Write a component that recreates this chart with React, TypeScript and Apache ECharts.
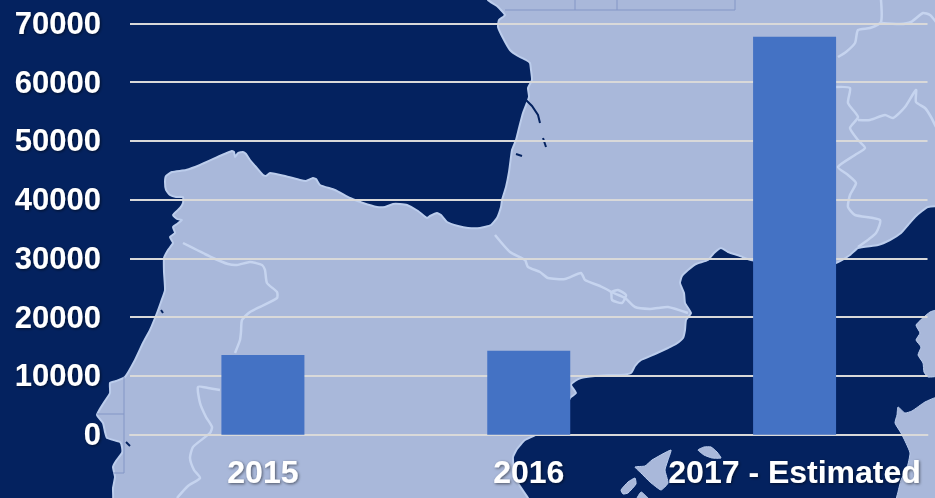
import React, { useEffect, useRef } from "react";
import * as echarts from "echarts";

const categories = ["2015", "2016", "2017 - Estimated"];
const values = [13560, 14300, 67720];
const yMax = 70000;
const yStep = 10000;

const LAND = "#a9b8da";
const SEA = "#04225f";
const COAST = "#bccdec";
const BORDER = "#c6d4ef";
const TABLE = "#8396c6";

type P = number[];

const atlantic: P[] = [[488,-5],[488,0],[497,6],[505,15],[499,20],[498,27],[503,38],[510,50],[518,56],[526,60],[530,63],[531,70],[532,80],[528,88],[529,97],[523,113],[519,128],[516,140],[512,150],[511,157],[509,172],[506,187],[502,200],[501,207],[497,218],[491,225],[480,228],[468,228],[458,226],[447,222],[441,215],[437,213],[430,216],[427,218],[418,211],[407,205],[400,204],[393,204],[385,207],[377,207],[363,203],[350,198],[335,190],[320,185],[316,179],[313,178],[306,181],[300,180],[285,176],[270,173],[266,176],[263,175],[256,167],[250,160],[246,154],[243,152],[238,153],[235,157],[234,152],[232,151],[222,155],[200,165],[186,170],[172,172],[166,176],[165,182],[166,190],[170,195],[176,197],[183,197],[183,203],[180,208],[173,215],[177,219],[182,220],[177,224],[173,227],[175,233],[170,237],[173,243],[168,250],[164,258],[164,272],[165,290],[161,302],[157,313],[150,330],[143,343],[135,360],[125,377],[116,381],[110,383],[110,393],[103,404],[97,415],[103,423],[105,432],[107,438],[120,442],[122,447],[122,453],[116,461],[113,467],[115,477],[113,488],[112,503],[-5,503],[-5,-5]];

const med: P[] = [[940,207],[928,207],[922,211],[915,217],[908,225],[901,233],[890,240],[878,245],[858,248],[850,255],[836,263],[800,266],[751,260],[740,256],[728,252],[721,248],[714,253],[708,260],[696,264],[688,270],[682,276],[680,283],[684,293],[685,303],[691,313],[686,320],[685,330],[683,338],[676,344],[668,348],[655,354],[641,360],[635,366],[631,373],[620,375],[608,375],[595,376],[581,378],[575,381],[571,385],[576,393],[570,398],[560,420],[540,433],[525,440],[517,449],[513,457],[514,470],[518,483],[528,498],[530,503],[940,503]];

const islands: P[][] = [
  [[940,310],[930,312],[916,325],[920,333],[916,340],[921,347],[918,355],[923,363],[924,372],[928,377],[940,375]],
  [[940,397],[925,402],[912,411],[905,413],[898,407],[897,415],[895,423],[901,433],[905,441],[910,453],[907,468],[901,480],[898,492],[896,503],[940,503]],
  [[635,467],[645,466],[652,460],[671,450],[668,460],[665,470],[668,483],[661,490],[650,482],[641,473]],
  [[698,450],[704,447],[711,447],[717,452],[721,458],[712,458],[704,455]],
  [[621,490],[628,482],[635,478],[636,484],[628,493],[623,494]],
  [[635,503],[641,492],[648,498],[650,503]],
];

const borders: P[][] = [
  [[183,243],[197,250],[213,258],[228,264],[237,265],[250,262],[262,265],[265,270],[267,283],[277,292],[277,298],[262,306],[250,312],[242,320],[241,332],[240,340],[235,353]],
  [[220,390],[208,388],[198,387],[200,403],[206,417],[212,427],[210,433],[193,447],[190,458],[194,470],[200,478],[188,486],[177,498]],
  [[495,235],[510,252],[525,260],[528,267],[540,272],[548,278],[565,279],[581,273],[585,280],[600,286],[611,292],[612,300],[622,303],[626,295],[618,290],[612,292],[625,298],[635,307],[650,309],[658,308],[668,307],[688,313]],
  [[881,0],[881,22],[870,28],[858,30],[855,43],[846,52],[838,57]],
  [[881,23],[900,24],[911,22],[923,13],[930,15],[936,22]],
  [[836,87],[850,88],[848,103],[858,117],[850,128],[858,140],[865,148],[855,155],[838,167],[848,175],[856,183],[850,195],[848,207],[855,215],[880,220],[876,233],[858,247]],
  [[858,120],[870,120],[885,115],[893,118],[905,107],[916,90],[916,102],[925,108],[931,117],[936,127]],
];

const darkBits: P[][] = [
  [[526,100],[532,106],[538,115],[540,123]],
  [[543,138],[546,147]],
  [[516,154],[522,156]],
  [[126,442],[130,446]],
  [[163,313],[161,310]],
];

const tableLines: P[][] = [
  [[505,10],[735,10],[735,-2]],
  [[575,-2],[575,10]],
  [[617,-2],[617,10]],
  [[124,377],[124,473],[113,473]],
  [[97,414],[124,414]],
];

const Z = { z: -1 };

function background(): any[] {
  const g: any[] = [
    { type: "rect", ...Z, shape: { x: 0, y: 0, width: 935, height: 498 }, style: { fill: LAND } },
  ];
  borders.forEach((points) =>
    g.push({ type: "polyline", ...Z, shape: { points, smooth: 0.2 }, style: { stroke: BORDER, lineWidth: 2.5, fill: null } }),
  );
  [atlantic, med].forEach((points) =>
    g.push({ type: "polygon", ...Z, shape: { points, smooth: 0.15 }, style: { fill: SEA, stroke: COAST, lineWidth: 2 } }),
  );
  islands.forEach((points) =>
    g.push({ type: "polygon", ...Z, shape: { points, smooth: 0.15 }, style: { fill: LAND, stroke: COAST, lineWidth: 1 } }),
  );
  darkBits.forEach((points) =>
    g.push({ type: "polyline", ...Z, shape: { points }, style: { stroke: SEA, lineWidth: 2, fill: null } }),
  );
  tableLines.forEach((points) =>
    g.push({ type: "polyline", ...Z, shape: { points }, style: { stroke: TABLE, lineWidth: 1, fill: null } }),
  );
  return g;
}

const labelStyle = {
  color: "#ffffff",
  fontFamily: "Liberation Sans",
  fontWeight: "bold" as const,
  textShadowColor: "rgba(0,0,0,0.55)",
  textShadowBlur: 3,
  textShadowOffsetX: 1,
  textShadowOffsetY: 1,
};

export default function App() {
  const ref = useRef<HTMLDivElement>(null);
  useEffect(() => {
    const chart = echarts.init(ref.current!, null, { renderer: "svg" });
    chart.setOption({
      animation: false,
      graphic: { elements: background() },
      grid: { left: 130, right: 7.5, top: 23.3, bottom: 63.3 },
      xAxis: {
        type: "category",
        data: categories,
        axisLine: { show: true, lineStyle: { color: "#d9d9d9", width: 2 } },
        axisTick: { show: false },
        axisLabel: { ...labelStyle, fontSize: 32, margin: 21, interval: 0 },
      },
      yAxis: {
        type: "value",
        min: 0,
        max: yMax,
        interval: yStep,
        axisLine: { show: false },
        axisTick: { show: false },
        axisLabel: { ...labelStyle, fontSize: 31, margin: 29, formatter: (v: number) => String(v) },
        splitLine: { lineStyle: { color: "#d9d9d9", width: 1.8 } },
      },
      series: [
        {
          type: "bar",
          data: values,
          barWidth: 83,
          itemStyle: { color: "#4472c4" },
        },
      ],
    });
    return () => chart.dispose();
  }, []);
  return <div ref={ref} style={{ position: "fixed", left: 0, top: 0, width: 935, height: 498 }} />;
}
